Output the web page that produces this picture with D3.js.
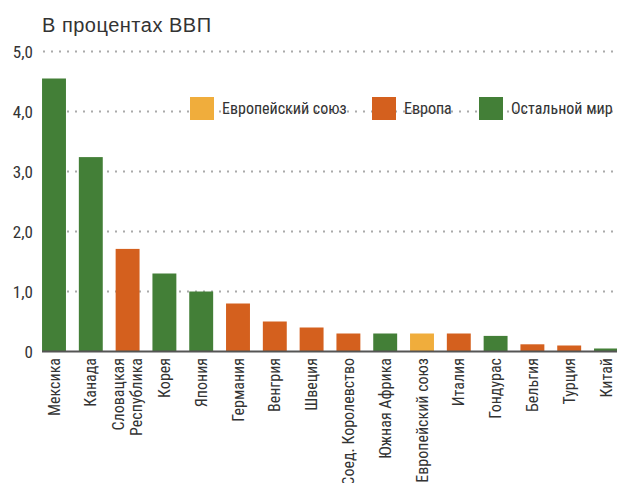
<!DOCTYPE html>
<html>
<head>
<meta charset="utf-8">
<script src="https://cdn.jsdelivr.net/npm/d3@7"></script>
<style>
  body { margin: 0; background: #fff; }
  text { font-family: "Roboto Condensed", "Liberation Sans", sans-serif; fill: #333; }
  .title { font-family: "Liberation Sans", Arial, sans-serif; }
</style>
</head>
<body>
<svg id="chart" width="617" height="483"></svg>
<script>
// categories, one per bar (line breaks with \n)
const countries = ["Мексика", "Канада", "Словацкая\nРеспублика", "Корея", "Япония", "Германия", "Венгрия", "Швеция",
  "Соед. Королевство", "Южная Африка", "Европейский союз", "Италия", "Гондурас", "Бельгия", "Турция", "Китай"];
const values = [4.55, 3.24, 1.71, 1.3, 1.0, 0.8, 0.5, 0.4, 0.3, 0.3, 0.3, 0.3, 0.26, 0.12, 0.1, 0.05];
const groups = ["w", "w", "e", "w", "w", "e", "e", "e", "e", "w", "u", "e", "w", "e", "e", "w"];

const groupKeys = ["u", "e", "w"];
const groupNames = ["Европейский союз", "Европа", "Остальной мир"];
const groupColors = ["#f0ad3c", "#d4601e", "#437f37"];

const yTicks = [0, 1, 2, 3, 4, 5];
const yTickLabels = ["0", "1,0", "2,0", "3,0", "4,0", "5,0"];

const svg = d3.select("#chart");

const x = d3.scaleBand()
  .domain(countries)
  .range([35.6, 624.4])
  .paddingInner(0.35)
  .paddingOuter(0.175);

const y = d3.scaleLinear().domain([0, 5]).range([351.5, 51.5]);

const color = d3.scaleOrdinal().domain(groupKeys).range(groupColors);

//title
svg.append("text")
  .attr("class", "title")
  .attr("x", 42).attr("y", 32)
  .style("font-size", "20px")
  .style("letter-spacing", "0.5px")
  .text("В процентах ВВП");

//dotted grid lines
svg.append("g")
  .selectAll("line")
  .data(yTicks.filter(d => d > 0))
  .join("line")
  .attr("x1", 43).attr("x2", 617)
  .attr("y1", d => y(d)).attr("y2", d => y(d))
  .attr("stroke", "#aaa")
  .attr("stroke-width", 2)
  .attr("stroke-dasharray", "2,6");

//y labels
svg.append("g")
  .selectAll("text")
  .data(yTicks)
  .join("text")
  .attr("x", 33)
  .attr("y", d => y(d))
  .attr("dy", "0.36em")
  .attr("text-anchor", "end")
  .style("font-size", "17px")
  .text((d, i) => yTickLabels[i]);

//bars
svg.append("g")
  .selectAll("rect")
  .data(countries)
  .join("rect")
  .attr("x", d => x(d))
  .attr("width", x.bandwidth())
  .attr("y", (d, i) => y(values[i]))
  .attr("height", (d, i) => y(0) - y(values[i]))
  .attr("fill", (d, i) => color(groups[i]));

//baseline
svg.append("line")
  .attr("x1", 42).attr("x2", 617)
  .attr("y1", y(0)).attr("y2", y(0))
  .attr("stroke", "#555")
  .attr("stroke-width", 2);

//x labels, rotated
const xLabels = svg.append("g")
  .selectAll("text")
  .data(countries)
  .join("text")
  .attr("text-anchor", "end")
  .style("font-size", "16px")
  .attr("transform", d => `translate(${x(d) + x.bandwidth() / 2}, 358) rotate(-90)`);

xLabels.each(function(d) {
  const lines = d.split("\n");
  const t = d3.select(this);
  lines.forEach((line, i) => {
    t.append("tspan")
      .attr("x", 0)
      .attr("y", (i - (lines.length - 1) / 2) * 17.5)
      .attr("dy", "0.35em")
      .text(line);
  });
});

//legend
const legendX = [190, 372, 479];
const legend = svg.append("g")
  .selectAll("g")
  .data(groupKeys)
  .join("g")
  .attr("transform", (d, i) => `translate(${legendX[i]}, 97)`);

legend.append("rect")
  .attr("width", 24).attr("height", 23)
  .attr("fill", d => color(d));

legend.append("text")
  .attr("x", 32).attr("y", 11.5)
  .attr("dy", "0.36em")
  .style("font-size", "16px")
  .text((d, i) => groupNames[i]);
</script>
</body>
</html>
